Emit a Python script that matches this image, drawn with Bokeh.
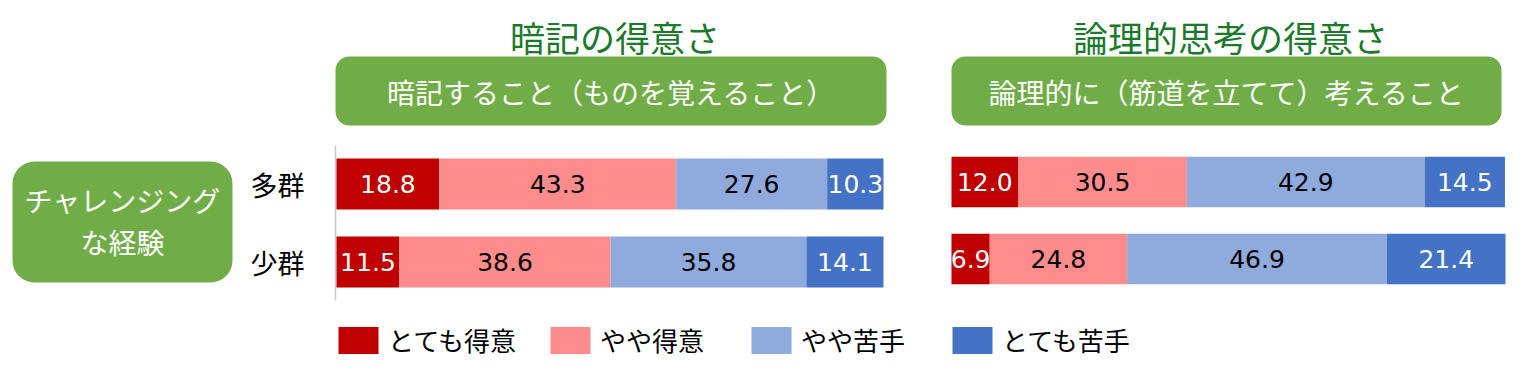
from bokeh.plotting import figure
from bokeh.models import Range1d, ColumnDataSource, Legend, LegendItem
from bokeh.core.properties import value
from bokeh.embed import file_html
from bokeh.resources import INLINE

# ---------------- data ----------------
groups = ["多群", "少群"]
levels = ["とても得意", "やや得意", "やや苦手", "とても苦手"]
colors = ["#C00000", "#FF8C8C", "#8FAADC", "#4472C4"]
label_colors = ["white", "black", "black", "white"]

memo_title = "暗記の得意さ"
memo_sub = "暗記すること（ものを覚えること）"
memo_vals = {
    "とても得意": [18.8, 11.5],
    "やや得意": [43.3, 38.6],
    "やや苦手": [27.6, 35.8],
    "とても苦手": [10.3, 14.1],
}

logic_title = "論理的思考の得意さ"
logic_sub = "論理的に（筋道を立てて）考えること"
logic_vals = {
    "とても得意": [12.0, 6.9],
    "やや得意": [30.5, 24.8],
    "やや苦手": [42.9, 46.9],
    "とても苦手": [14.5, 21.4],
}

row_title = ["チャレンジング", "な経験"]

FONT = "Noto Sans CJK JP"
GREEN = "#70AD47"
TITLE_GREEN = "#1A7A2A"

# ---------------- layout (screenshot pixel coords) ----------------
W, H = 1520, 364
PX0, PX1 = 0, W
PY0, PY1 = 0, H


def xrange_for(p_at0, p_at100):
    s = (p_at100 - p_at0) / 100.0
    return Range1d(start=(PX0 - p_at0) / s, end=(PX1 - p_at0) / s)


def yrange_for(p_idx0, p_idx1):
    s = p_idx1 - p_idx0
    return Range1d(start=(PY1 - p_idx0) / s, end=(PY0 - p_idx0) / s)


p = figure(width=W, height=H, x_range=Range1d(PX0, PX1), y_range=Range1d(PY1, PY0),
           output_backend="svg", toolbar_location=None, min_border=0)
p.axis.visible = False
p.grid.visible = False
p.outline_line_color = None
p.background_fill_color = "white"

p.extra_x_ranges = {"mx": xrange_for(336, 883), "lx": xrange_for(951, 1505)}
p.extra_y_ranges = {"my": yrange_for(183.5, 261.5), "ly": yrange_for(181.5, 258.5)}

# left header box
p.quad(left=12, right=232, top=161, bottom=282, fill_color=GREEN, line_color=None, border_radius=22)
p.text(x=[122, 122], y=[199, 241], text=row_title, text_font=value(FONT), text_font_size="28px",
       text_color="white", text_align="center", text_baseline="middle")

# axis line of left chart
p.segment(x0=[335], y0=[145], x1=[335], y1=[300], line_color="#C8C8C8", line_width=1.5)

legend_renderers = None
for vals, title, sub, xr, yr, box in [
    (memo_vals, memo_title, memo_sub, "mx", "my", (335, 886)),
    (logic_vals, logic_title, logic_sub, "lx", "ly", (951, 1501)),
]:
    cx = (box[0] + box[1]) / 2
    p.text(x=[cx + 4], y=[36], text=[title], text_font=value(FONT), text_font_size="35px",
           text_color=TITLE_GREEN, text_align="center", text_baseline="middle")
    p.quad(left=box[0], right=box[1], top=56, bottom=125, fill_color=GREEN, line_color=None,
           border_radius=14)
    p.text(x=[cx], y=[91], text=[sub], text_font=value(FONT), text_font_size="28px",
           text_color="white", text_align="center", text_baseline="middle")

    data = {"y": list(range(len(groups)))}
    data.update(vals)
    src = ColumnDataSource(data)
    rs = p.hbar_stack(levels, y="y", height=51 / 78, color=colors, line_color=None,
                      source=src, x_range_name=xr, y_range_name=yr)
    if legend_renderers is None:
        legend_renderers = rs

    # value labels
    lx, ly, lt, lc = [], [], [], []
    for gi in range(len(groups)):
        cum = 0.0
        for li, lev in enumerate(levels):
            v = vals[lev][gi]
            lx.append(cum + v / 2)
            ly.append(gi)
            lt.append(f"{v:.1f}")
            lc.append(label_colors[li])
            cum += v
    p.text(x=lx, y=ly, text=lt, text_color=lc, text_font=value("DejaVu Sans"),
           text_font_size="25px", text_align="center", text_baseline="middle",
           x_range_name=xr, y_range_name=yr)

# group labels
p.text(x=[277, 277], y=[0, 1], text=groups, text_font=value(FONT), text_font_size="27px",
       text_color="black", text_align="center", text_baseline="middle",
       y_range_name="my")

legend = Legend(items=[LegendItem(label=lev, renderers=[r]) for lev, r in zip(levels, legend_renderers)],
                orientation="horizontal", location=(333, 6), glyph_width=50, glyph_height=34,
                label_standoff=5, spacing=29, label_width=117, label_height=34, padding=0, margin=0,
                border_line_color=None, background_fill_alpha=0,
                label_text_font=FONT, label_text_font_size="26px", label_text_color="black")
p.add_layout(legend)

open("out.html", "w").write(file_html(p, INLINE))
